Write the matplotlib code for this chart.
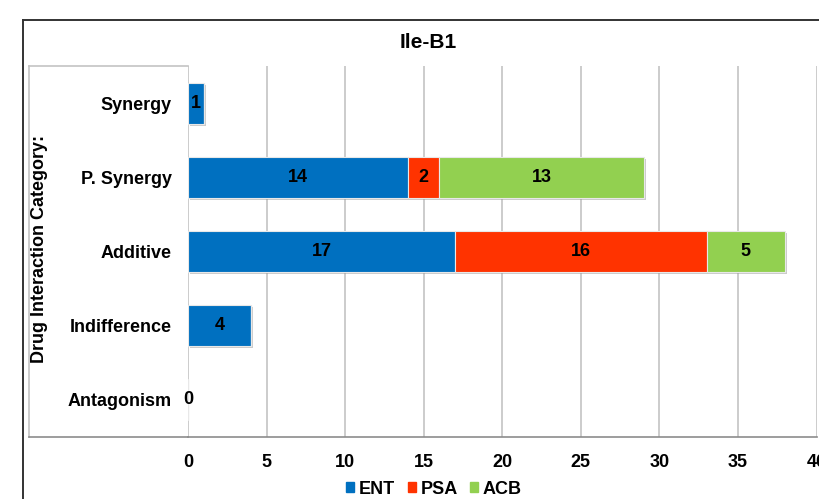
import matplotlib
matplotlib.use('Agg')
import matplotlib.pyplot as plt
import matplotlib.patheffects as pe
from matplotlib.lines import Line2D
from matplotlib.patches import Patch

plt.rcParams['font.family'] = ['Liberation Sans', 'DejaVu Sans']
plt.rcParams['font.weight'] = 'bold'

categories = ['Synergy', 'P. Synergy', 'Additive', 'Indifference', 'Antagonism']
ent = [1, 14, 17, 4, 0]
psa = [0, 2, 16, 0, 0]
acb = [0, 13, 5, 0, 0]
series_names = ['ENT', 'PSA', 'ACB']
colors = ['#0070C0', '#FF3300', '#92D050']
x_ticks = [0, 5, 10, 15, 20, 25, 30, 35, 40]

W, H = 820, 499
fig = plt.figure(figsize=(W / 100, H / 100), dpi=100)
ax = fig.add_axes([188 / W, 1 - 437 / H, (816.6 - 188) / W, (437 - 66) / H])

ypos = list(range(len(categories)))[::-1]
shadow = [pe.SimplePatchShadow(offset=(1.5, -1.5), shadow_rgbFace='#999999', alpha=0.5), pe.Normal()]

left = [0] * len(categories)
for name, vals, col in zip(series_names, [ent, psa, acb], colors):
    bars = ax.barh(ypos, vals, left=left, height=0.55, color=col,
                   edgecolor='#e8e8e8', linewidth=0.8, label=name, zorder=3)
    for b in bars:
        b.set_path_effects(shadow)
    for y, v, l in zip(ypos, vals, left):
        if v > 0 or name == 'ENT':
            ax.text(l + v / 2, y, str(v), ha='center', va='center',
                    fontsize=13, fontweight='bold', color='black', zorder=5)
    left = [a + b for a, b in zip(left, vals)]

ax.set_xlim(0, 40)
ax.set_ylim(-0.5, len(categories) - 0.5)
ax.set_xticks(x_ticks)
ax.set_yticks(ypos)
ax.set_yticklabels(categories)
ax.tick_params(axis='both', length=0, labelsize=13)
ax.tick_params(axis='y', pad=11.5)
ax.tick_params(axis='x', pad=12)
for lab in ax.get_xticklabels() + ax.get_yticklabels():
    lab.set_fontweight('bold')

ax.grid(axis='x', color='#c4c4c4', linewidth=1.2, zorder=0)
for s in ['top', 'right', 'left']:
    ax.spines[s].set_visible(False)
ax.spines['bottom'].set_color('#8c8c8c')
ax.spines['bottom'].set_linewidth(1.2)

# outer chart frame and inner plot-area frame
fig.add_artist(Line2D([23.5 / W, 23.5 / W], [0, 1 - 20 / H], color='#333333', lw=1.4))
fig.add_artist(Line2D([23.5 / W, 1], [1 - 20 / H, 1 - 20 / H], color='#333333', lw=1.4))
fig.add_artist(Line2D([29 / W, 188 / W], [1 - 66 / H, 1 - 66 / H], color='#c4c4c4', lw=1.2))
fig.add_artist(Line2D([29 / W, 29 / W], [1 - 66 / H, 1 - 437 / H], color='#c4c4c4', lw=1.2))
fig.add_artist(Line2D([29 / W, 188 / W], [1 - 437 / H, 1 - 437 / H], color='#8c8c8c', lw=1.2))

fig.text(428 / W, 1 - 42 / H, 'Ile-B1', ha='center', va='center', fontsize=15, fontweight='bold')
fig.text(40 / W, 1 - 249 / H, 'Drug Interaction Category:', ha='center', va='center',
         rotation=90, fontsize=13, fontweight='bold')

handles = [Patch(color=c, label=n) for n, c in zip(series_names, colors)]
fig.legend(handles=handles, loc='center', bbox_to_anchor=(434 / W, 1 - 489 / H), ncol=3,
           frameon=False, handlelength=0.45, handleheight=0.45,
           handletextpad=0.25, columnspacing=0.7, prop={'weight': 'bold', 'size': 13})

fig.savefig('out.png', dpi=100, facecolor='white')
